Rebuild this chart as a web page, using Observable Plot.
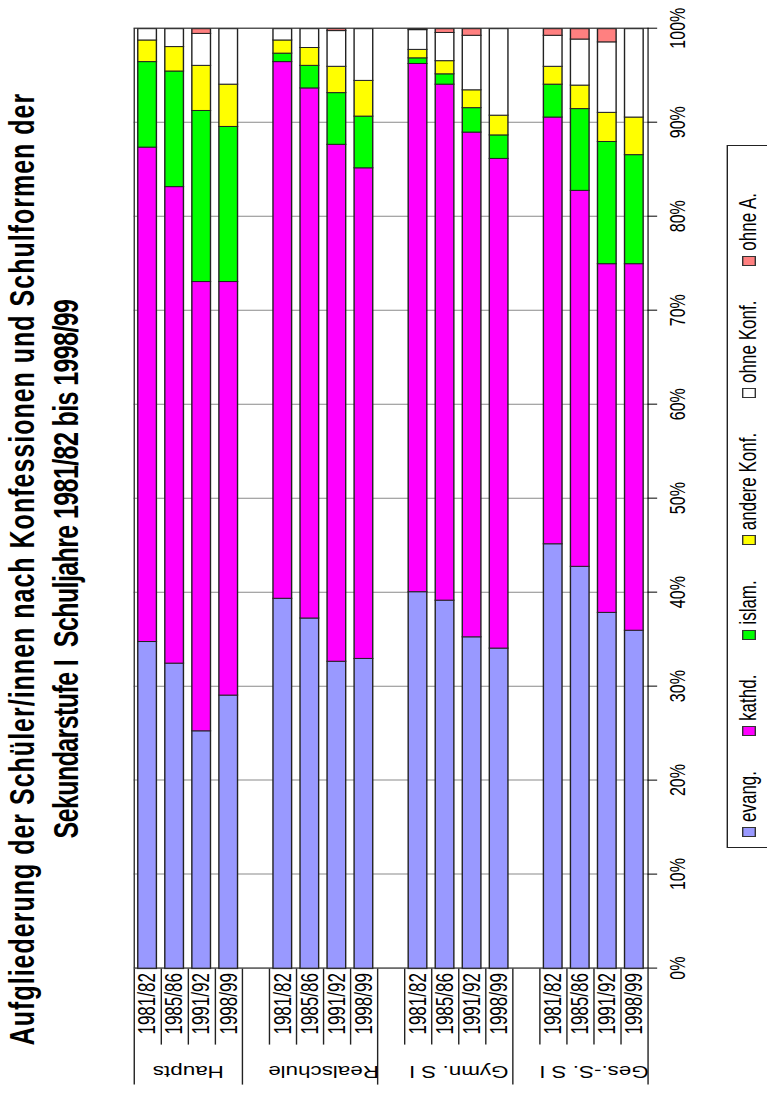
<!DOCTYPE html>
<html>
<head>
<meta charset="utf-8">
<script src="https://cdn.jsdelivr.net/npm/d3@7"></script>
<script src="https://cdn.jsdelivr.net/npm/@observablehq/plot@0.6"></script>
<style>
  html, body { margin: 0; padding: 0; background: #fff; width: 767px; height: 1097px; overflow: hidden; }
  /* The chart is laid out as a horizontal bar chart and turned a quarter turn,
     stretched across the bars so the text reads narrow and tall. */
  #chart {
    position: absolute; left: 0; top: 0; width: 1097px; height: 548px;
    transform-origin: 0 0;
    transform: translate(0px, 1097px) rotate(-90deg) scale(1, 1.4);
    font-family: "Liberation Sans", Arial, sans-serif; color: #000;
  }
  #title { position: absolute; left: 0; top: 0; width: 1056px; font-weight: bold; font-size: 25px; line-height: 25px; }
  #title div { position: absolute; left: 0; right: 0; text-align: center; white-space: nowrap; }
  #plot { position: absolute; left: 0; top: 0; }
  #legend {
    position: absolute; left: 249px; top: 519px; width: 703px; height: 32px; box-sizing: border-box;
    border: 1px solid #222; display: flex; align-items: center; padding-left: 10px; gap: 35px;
    font-size: 17px; white-space: nowrap;
  }
  #legend .item { display: flex; align-items: center; gap: 5px; }
  #legend .sw { width: 10px; height: 10px; border: 1px solid #333; box-sizing: border-box; }
</style>
</head>
<body>
<div id="chart">
  <div id="title">
    <div style="top:3px; letter-spacing:1px">Aufgliederung der Schüler/innen nach Konfessionen und Schulformen der</div>
    <div style="top:35px; letter-spacing:-0.6px">Sekundarstufe I&nbsp; Schuljahre 1981/82 bis 1998/99</div>
  </div>
  <div id="plot"></div>
  <div id="legend"></div>
</div>
<script>
// School types and school years
const groups = ["Haupts", "Realschule", "Gymn. S I", "Ges.-S. S I"];
const years = ["1981/82", "1985/86", "1991/92", "1998/99"];

// Denominations and their colours
const seriesNames = ["evang.", "kathd.", "islam.", "andere Konf.", "ohne Konf.", "ohne A."];
const seriesColors = ["#9999FF", "#FF00FF", "#00FF00", "#FFFF00", "#FFFFFF", "#FF8080"];

// Shares in percent, one entry per school type and year (Haupts..Ges.-S., 1981/82..1998/99)
const evang    = [34.8, 32.5, 25.3, 29.1,  39.4, 37.3, 32.7, 33.0,  40.1, 39.2, 35.3, 34.1,  45.2, 42.8, 37.9, 36.0];
const kathd    = [52.6, 50.7, 47.8, 44.0,  57.1, 56.4, 55.0, 52.2,  56.2, 54.9, 53.7, 52.1,  45.4, 40.0, 37.1, 39.0];
const islam    = [ 9.1, 12.3, 18.2, 16.5,   0.9,  2.4,  5.5,  5.5,   0.6,  1.1,  2.6,  2.5,   3.5,  8.7, 13.0, 11.6];
const andere   = [ 2.3,  2.6,  4.8,  4.5,   1.4,  1.9,  2.8,  3.8,   0.9,  1.4,  1.9,  2.1,   1.9,  2.5,  3.1,  4.0];
const ohneKonf = [ 1.2,  1.9,  3.4,  5.9,   1.2,  2.0,  3.8,  5.5,   2.1,  3.0,  5.8,  9.2,   3.3,  4.9,  7.5,  9.4];
const ohneA    = [ 0.0,  0.0,  0.5,  0.0,   0.0,  0.0,  0.2,  0.0,   0.1,  0.4,  0.7,  0.0,   0.7,  1.1,  1.4,  0.0];

const percentTicks = [0, 10, 20, 30, 40, 50, 60, 70, 80, 90, 100];

const seriesValues = [evang, kathd, islam, andere, ohneKonf, ohneA];

// Each group takes four slots, with one empty slot before every group after the first
const slotsPerGroup = years.length + 1;
const slotCount = groups.length * slotsPerGroup - 1;
const slotOf = (gi, yi) => gi * slotsPerGroup + yi;

// Stacked segments
const rows = [];
groups.forEach((g, gi) => years.forEach((yr, yi) => {
  const k = gi * years.length + yi;
  let acc = 0;
  seriesValues.forEach((arr, si) => {
    const v = arr[k];
    if (v > 0) rows.push({group: g, year: yr, slot: slotOf(gi, yi), series: seriesNames[si], value: v, x1: acc, x2: acc + v});
    acc += v;
  });
}));

// Category axis: year ticks at slot centres, separators at slot edges
const yearTicks = [];
const yearLabel = new Map();
groups.forEach((g, gi) => years.forEach((yr, yi) => {
  const c = slotOf(gi, yi) + 0.5;
  yearTicks.push(c);
  yearLabel.set(c, yr);
}));
const groupEdges = groups.map((g, gi) => gi === 0 ? 0 : slotOf(gi, 0) - 1).concat([slotCount]);
const yearEdges = [];
groups.forEach((g, gi) => years.forEach((yr, yi) => {
  const e = slotOf(gi, yi);
  if (!groupEdges.includes(e)) yearEdges.push(e);
}));
const groupLabels = groups.map((g, gi) => ({name: g, center: slotOf(gi, 0) + years.length / 2}));

const chart = Plot.plot({
  width: 1097,
  height: 548,
  marginLeft: 128.4,
  marginRight: 28.7,
  marginTop: 95.4,
  marginBottom: 85.6,
  style: {fontFamily: '"Liberation Sans", Arial, sans-serif', fontSize: "16px", color: "#000", background: "transparent", overflow: "visible"},
  x: {domain: [0, 100]},
  y: {domain: [0, slotCount], reverse: true},
  color: {domain: seriesNames, range: seriesColors},
  marks: [
    Plot.gridX({ticks: percentTicks, stroke: "#8a8a8a", strokeOpacity: 1}),
    Plot.rect(rows, {
      x1: "x1", x2: "x2", y1: "slot", y2: d => d.slot + 1,
      insetTop: 3, insetBottom: 3,
      fill: "series", stroke: "#222", strokeWidth: 1
    }),
    Plot.frame({stroke: "#333"}),
    Plot.axisX({ticks: percentTicks, tickFormat: d => d + "%", tickSize: 7, tickPadding: 8, label: null, fontSize: 16}),
    Plot.axisY({ticks: yearTicks, tickFormat: d => yearLabel.get(d), tickSize: 0, tickPadding: 5, label: null, fontSize: 17}),
    Plot.ruleY(yearEdges, {y: d => d, x1: 0, x2: 0, insetLeft: -76, stroke: "#222"}),
    Plot.ruleY(groupEdges, {y: d => d, x1: 0, x2: 0, insetLeft: -116, stroke: "#222"}),
    Plot.text(groupLabels, {y: "center", text: "name", frameAnchor: "left", textAnchor: "middle", dx: -103, rotate: -90, fontSize: 16})
  ]
});
document.getElementById("plot").append(chart);

// Legend
const legend = document.getElementById("legend");
seriesNames.forEach((name, i) => {
  const item = document.createElement("div");
  item.className = "item";
  const sw = document.createElement("div");
  sw.className = "sw";
  sw.style.background = seriesColors[i];
  const label = document.createElement("span");
  label.textContent = name;
  item.append(sw, label);
  legend.append(item);
});
</script>
</body>
</html>
